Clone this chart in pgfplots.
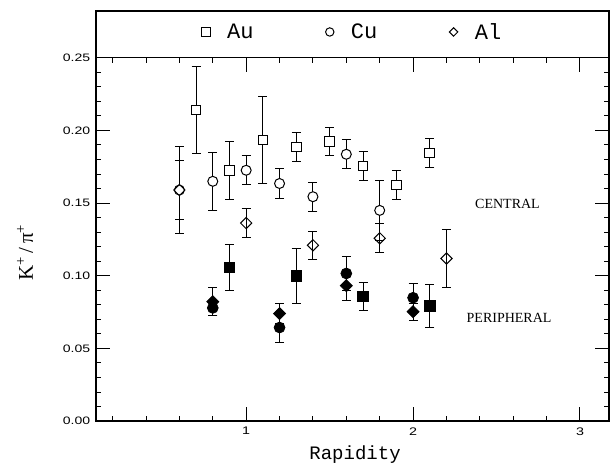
\documentclass[border=0pt]{standalone}
\usepackage{fontspec}
\setmainfont{Liberation Serif}
\newfontfamily\monofont{Liberation Mono}
\newfontfamily\tickfont[FakeStretch=1.3]{Liberation Sans}
\usepackage{pgfplots}
\pgfplotsset{compat=1.18}
\pgfdeclareplotmark{rdiamond}{%
  \pgfpathmoveto{\pgfqpoint{0pt}{\pgfplotmarksize}}%
  \pgfpathlineto{\pgfqpoint{\pgfplotmarksize}{0pt}}%
  \pgfpathlineto{\pgfqpoint{0pt}{-\pgfplotmarksize}}%
  \pgfpathlineto{\pgfqpoint{-\pgfplotmarksize}{0pt}}%
  \pgfpathclose\pgfusepathqstroke}
\pgfdeclareplotmark{rdiamond*}{%
  \pgfpathmoveto{\pgfqpoint{0pt}{\pgfplotmarksize}}%
  \pgfpathlineto{\pgfqpoint{\pgfplotmarksize}{0pt}}%
  \pgfpathlineto{\pgfqpoint{0pt}{-\pgfplotmarksize}}%
  \pgfpathlineto{\pgfqpoint{-\pgfplotmarksize}{0pt}}%
  \pgfpathclose\pgfusepathqfillstroke}
\pgfplotsset{eb/.style={only marks, black, line width=0.9pt,
  error bars/.cd, y dir=both, y explicit,
  error bar style={line width=0.9pt, black},
  error mark options={rotate=90, mark size=4.5pt, line width=0.9pt, black},
  /pgfplots/.cd}}
\begin{document}
\begin{tikzpicture}
\begin{axis}[
  scale only axis, width=513pt, height=363.3pt,
  xmin=0.1, xmax=3.174, ymin=0, ymax=0.25,
  clip=false,
  axis line style={line width=1.3pt},
  tick align=inside,
  xtick={1,2,3},
  minor xtick={0.2,0.4,0.6,0.8,1.2,1.4,1.6,1.8,2.2,2.4,2.6,2.8},
  ytick={0,0.05,0.10,0.15,0.20,0.25},
  minor ytick={0.01,0.02,0.03,0.04,0.06,0.07,0.08,0.09,0.11,0.12,0.13,0.14,0.16,0.17,0.18,0.19,0.21,0.22,0.23,0.24},
  major tick length=14pt, minor tick length=5pt,
  every tick/.style={line width=1pt, black},
  /pgf/number format/assume math mode=true,
  yticklabel style={/pgf/number format/.cd, fixed, fixed zerofill, precision=2, /tikz/.cd,
    font=\tickfont\fontsize{10.8}{12}\selectfont, inner sep=0pt, xshift=-5.5pt},
  xticklabel style={font=\tickfont\fontsize{11}{12}\selectfont, inner sep=0pt, yshift=-6pt},
  xlabel={Rapidity},
  xlabel style={font=\monofont\fontsize{19}{22}\selectfont, at={(rel axis cs:0.505,-0.1046)}, anchor=base, inner sep=0pt},
  ylabel={K\textsuperscript{+}\,/\,π\textsuperscript{+}},
  ylabel style={font=\fontsize{21}{24}\selectfont, at={(rel axis cs:-0.1228,0.4638)}, rotate=0, anchor=base, inner sep=0pt},
  legend style={draw=none, fill=none, at={(rel axis cs:0.5,1.071)}, anchor=center,
    font=\monofont\fontsize{22}{24}\selectfont,
    /tikz/every odd column/.append style={column sep=15pt},
    /tikz/every even column/.append style={column sep=70pt}},
  legend columns=3,
  legend image post style={mark size=4.2pt, line width=1pt},
]
% central, open markers
\addplot[eb, mark=square*, mark size=4.8pt, mark options={fill=white, line width=1pt}] coordinates {
 (0.7,0.2140) +- (0,0.0300)
 (0.9,0.1724) +- (0,0.0200)
 (1.1,0.1934) +- (0,0.0300)
 (1.3,0.1886) +- (0,0.0099)
 (1.5,0.1925) +- (0,0.0099)
 (1.7,0.1756) +- (0,0.0099)
 (1.9,0.1626) +- (0,0.0100)
 (2.1,0.1845) +- (0,0.0099)
};
\addlegendentry{Au}
\addplot[eb, mark=*, mark size=5pt, mark options={fill=white, line width=1pt}] coordinates {
 (0.6,0.1590) +- (0,0.0297)
 (0.8,0.1650) +- (0,0.0200)
 (1.0,0.1726) +- (0,0.0100)
 (1.2,0.1635) +- (0,0.0102)
 (1.4,0.1544) +- (0,0.0100)
 (1.6,0.1836) +- (0,0.0100)
 (1.8,0.1450) +- (0,0.0205)
};
\addlegendentry{Cu}
\addplot[eb, mark=rdiamond, mark size=5.6pt, mark options={line width=1pt}] coordinates {
 (0.6,0.1590) +- (0,0.0203)
 (1.0,0.1363) +- (0,0.0097)
 (1.4,0.1210) +- (0,0.0096)
 (1.8,0.1258) +- (0,0.0100)
 (2.2,0.1119) +- (0,0.0197)
};
\addlegendentry{Al}
% peripheral, filled markers
\addplot[eb, forget plot, mark=square*, mark size=5.3pt, mark options={fill=black, line width=0.8pt}] coordinates {
 (0.9,0.1058) +- (0,0.0159)
 (1.3,0.0998) +- (0,0.0188)
 (1.7,0.0859) +- (0,0.0097)
 (2.1,0.0793) +- (0,0.0149)
};
\addplot[eb, forget plot, mark=*, mark size=5.4pt, mark options={fill=black, line width=0.8pt}] coordinates {
 (0.8,0.0779) +- (0,0.0053)
 (1.2,0.0644) +- (0,0.0103)
 (1.6,0.1016) +- (0,0.0120)
 (2.0,0.0849) +- (0,0.0100)
};
\addplot[eb, forget plot, mark=rdiamond*, mark size=6pt, mark options={fill=black, line width=0.8pt}] coordinates {
 (0.8,0.0822) +- (0,0.0096)
 (1.2,0.0740) +- (0,0.0071)
 (1.6,0.0932) +- (0,0.0099)
 (2.0,0.0753) +- (0,0.0060)
};
\node[anchor=base west, inner sep=0pt, font=\fontsize{14}{16}\selectfont] at (axis cs:2.371,0.1462) {CENTRAL};
\node[anchor=base west, inner sep=0pt, font=\fontsize{14}{16}\selectfont] at (axis cs:2.32,0.0676) {PERIPHERAL};
\draw[line width=1.3pt] (rel axis cs:0,1) -- (rel axis cs:0,1.1285) -- (rel axis cs:1,1.1285) -- (rel axis cs:1,1);
\coordinate (bl) at (rel axis cs:-0.187,-0.1156);
\coordinate (tr) at (rel axis cs:1.0019,1.159);
\end{axis}
\pgfresetboundingbox
\useasboundingbox (bl) rectangle (tr);
\end{tikzpicture}
\end{document}
